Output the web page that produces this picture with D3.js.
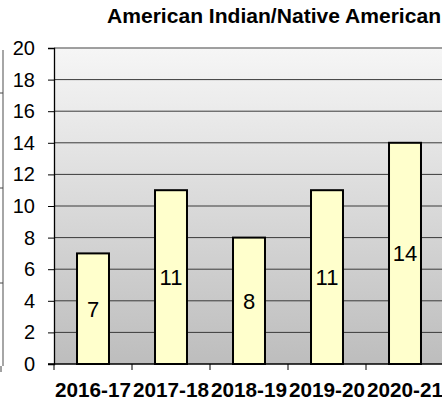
<!DOCTYPE html>
<html lang="en">
<head>
<meta charset="UTF-8" />
<script src="https://cdn.jsdelivr.net/npm/d3@7"></script>
<style>
  body { margin: 0; background: #fff; }
  svg { display: block; font-family: Arial, "Liberation Sans", sans-serif; }
</style>
</head>
<body>
<div id="chart"></div>
<script>
  // data
  const years = ["2016-17", "2017-18", "2018-19", "2019-20", "2020-21"];
  const counts = [7, 11, 8, 11, 14];
  const yTicks = [0, 2, 4, 6, 8, 10, 12, 14, 16, 18, 20];
  const title = "American Indian/Native American";

  const W = 442, H = 402;
  const plot = { left: 54, top: 48, right: 444, bottom: 364 };

  const svg = d3.select("#chart").append("svg")
    .attr("width", W).attr("height", H);

  // background gradient of plot area
  const grad = svg.append("defs").append("linearGradient")
    .attr("id", "bg").attr("x1", 0).attr("y1", 0).attr("x2", 0).attr("y2", 1);
  grad.append("stop").attr("offset", "0%").attr("stop-color", "#f6f6f6");
  grad.append("stop").attr("offset", "100%").attr("stop-color", "#bdbdbd");

  // edge of neighbouring chart on the left
  svg.append("line").attr("x1", 3).attr("x2", 3).attr("y1", 50).attr("y2", 366)
    .attr("stroke", "#888").attr("stroke-width", 1.5);
  [93, 188, 283].forEach(v => {
    svg.append("line").attr("x1", 0).attr("x2", 3).attr("y1", v).attr("y2", v)
      .attr("stroke", "#444");
  });
  svg.append("line").attr("x1", 1).attr("x2", 1).attr("y1", 366).attr("y2", 372)
    .attr("stroke", "#444");

  const x = d3.scaleBand().domain(years).range([plot.left, plot.right]).padding(0);
  const y = d3.scaleLinear().domain([0, 20]).range([plot.bottom, plot.top]);

  svg.append("rect")
    .attr("x", plot.left).attr("y", plot.top)
    .attr("width", plot.right - plot.left).attr("height", plot.bottom - plot.top)
    .attr("fill", "url(#bg)");

  // gridlines
  svg.append("g").selectAll("line")
    .data(yTicks.filter(d => d > 0 && d < 20))
    .join("line")
    .attr("x1", plot.left).attr("x2", plot.right)
    .attr("y1", d => y(d)).attr("y2", d => y(d))
    .attr("stroke", "#3a3a3a").attr("stroke-width", 1);

  svg.append("line")
    .attr("x1", plot.left).attr("x2", plot.right)
    .attr("y1", y(20)).attr("y2", y(20))
    .attr("stroke", "#808080").attr("stroke-width", 1.5);

  // bars
  const barW = x.bandwidth() * 0.41;
  svg.append("g").selectAll("rect")
    .data(counts)
    .join("rect")
    .attr("x", (d, i) => x(years[i]) + (x.bandwidth() - barW) / 2)
    .attr("y", d => y(d))
    .attr("width", barW)
    .attr("height", d => y(0) - y(d))
    .attr("fill", "#ffffcc")
    .attr("stroke", "#000")
    .attr("stroke-width", 2);

  // value labels
  svg.append("g").selectAll("text")
    .data(counts)
    .join("text")
    .attr("x", (d, i) => x(years[i]) + x.bandwidth() / 2)
    .attr("y", d => (y(d) + y(0)) / 2)
    .attr("dy", "0.36em")
    .attr("text-anchor", "middle")
    .attr("font-size", 22)
    .attr("fill", "#000")
    .text(d => d);

  // y axis
  const yAxis = svg.append("g")
    .attr("transform", `translate(${plot.left},0)`)
    .call(d3.axisLeft(y).tickValues(yTicks).tickSize(6).tickPadding(13));
  yAxis.select(".domain").attr("stroke", "#000").attr("stroke-width", 1.3);
  yAxis.selectAll(".tick line").attr("stroke", "#000");
  yAxis.selectAll("text").attr("font-size", 20).attr("fill", "#000")
    .attr("font-family", "Arial, 'Liberation Sans', sans-serif");

  // x axis
  const bounds = years.map(d => x(d)).concat([plot.right]);
  svg.append("line")
    .attr("x1", plot.left - 6).attr("x2", plot.right)
    .attr("y1", y(0)).attr("y2", y(0))
    .attr("stroke", "#000").attr("stroke-width", 1.3);
  svg.append("g").selectAll("line")
    .data(bounds)
    .join("line")
    .attr("x1", d => d).attr("x2", d => d)
    .attr("y1", y(0)).attr("y2", y(0) + 6)
    .attr("stroke", "#000");

  svg.append("g").selectAll("text")
    .data(years)
    .join("text")
    .attr("x", d => x(d) + x.bandwidth() / 2)
    .attr("y", 397)
    .attr("text-anchor", "middle")
    .attr("font-size", 21)
    .attr("font-weight", "bold")
    .attr("fill", "#000")
    .attr("textLength", 76)
    .attr("lengthAdjust", "spacingAndGlyphs")
    .text(d => d);

  // title
  svg.append("text")
    .attr("x", 107)
    .attr("y", 23)
    .attr("font-size", 20)
    .attr("font-weight", "bold")
    .attr("fill", "#000")
    .attr("textLength", 334)
    .attr("lengthAdjust", "spacingAndGlyphs")
    .text(title);
</script>
</body>
</html>
